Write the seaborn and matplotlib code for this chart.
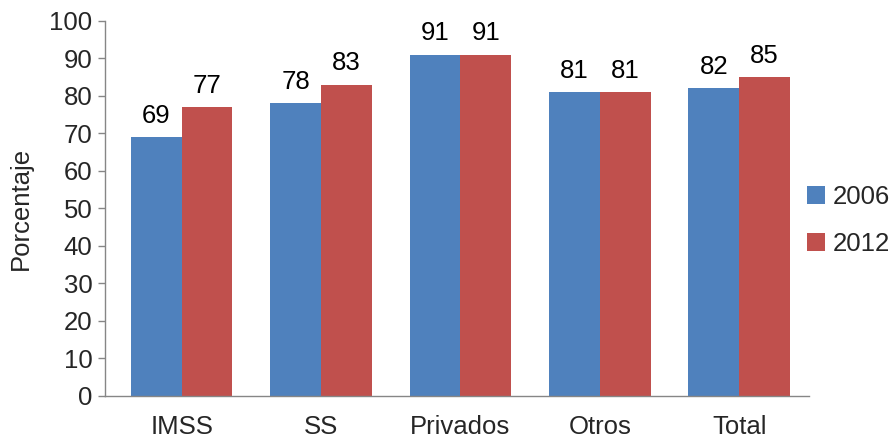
import matplotlib
matplotlib.use("Agg")
import matplotlib.pyplot as plt
import seaborn as sns
import pandas as pd

categories = ["IMSS", "SS", "Privados", "Otros", "Total"]
years = ["2006", "2012"]
values_2006 = [69, 78, 91, 81, 82]
values_2012 = [77, 83, 91, 81, 85]
yticks = list(range(0, 101, 10))

df = pd.DataFrame({
    "cat": categories * 2,
    "year": [years[0]] * 5 + [years[1]] * 5,
    "val": values_2006 + values_2012,
})

sns.set_theme(style="white")
plt.rcParams['font.family'] = ['Liberation Sans', 'DejaVu Sans']

FS = 18.5
fig = plt.figure(figsize=(8.91, 4.38), dpi=100)
ax = fig.add_axes([0.1178, 0.0959, 0.790, 0.8562])

palette = {"2006": "#4F81BD", "2012": "#C0504D"}
sns.barplot(data=df, x="cat", y="val", hue="year", order=categories,
            hue_order=years, palette=palette, width=0.73, ax=ax,
            saturation=1, edgecolor="none", linewidth=0)

for cont in ax.containers:
    ax.bar_label(cont, labels=[f"{int(v)}" for v in cont.datavalues],
                 padding=7, fontsize=FS, color="black")

ax.set_ylim(0, 100)
ax.set_xlim(-0.55, 4.5)
ax.set_yticks(yticks)
ax.set_yticklabels([str(t) for t in yticks], fontsize=FS)
ax.tick_params(axis="y", which="both", left=True, length=5, width=1,
               color="#868686", pad=4)
ax.tick_params(axis="x", bottom=False, labelsize=FS, pad=8)
ax.set_xlabel("")
ax.set_ylabel("Porcentaje", fontsize=FS, labelpad=12)

for s in ["top", "right"]:
    ax.spines[s].set_visible(False)
for s in ["left", "bottom"]:
    ax.spines[s].set_color("#868686")
    ax.spines[s].set_linewidth(1)

leg = ax.legend(loc="center left", bbox_to_anchor=(0.998, 0.468), frameon=False,
                fontsize=FS, handlelength=0.7, handleheight=0.7,
                handletextpad=0.3, labelspacing=0.9, borderpad=0,
                borderaxespad=0)

fig.savefig("out.png", dpi=100)
